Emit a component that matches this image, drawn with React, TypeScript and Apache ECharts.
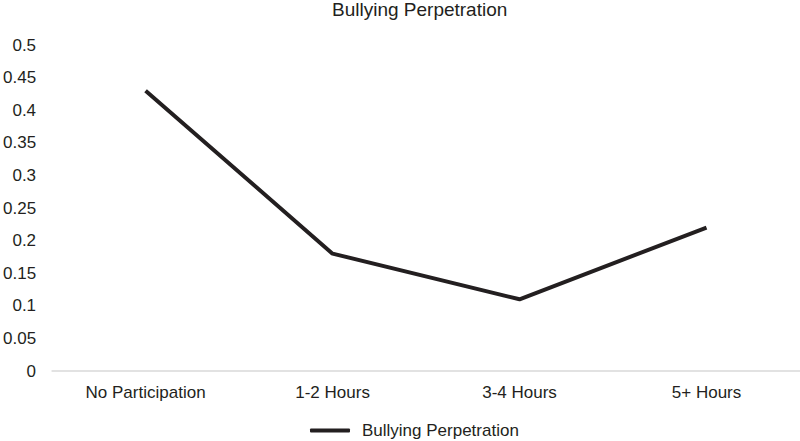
import React, { useEffect, useRef } from "react";
import * as echarts from "echarts";

const categories = ["No Participation", "1-2 Hours", "3-4 Hours", "5+ Hours"];
const seriesName = "Bullying Perpetration";
const values = [0.43, 0.18, 0.11, 0.22];
const chartTitle = "Bullying Perpetration";

export default function App() {
  const ref = useRef<HTMLDivElement>(null);
  useEffect(() => {
    if (!ref.current) return;
    const chart = echarts.init(ref.current, null, { renderer: "svg" });
    const font = "'Liberation Sans', Arial, sans-serif";
    chart.setOption({
      animation: false,
      backgroundColor: "#ffffff",
      textStyle: { fontFamily: font },
      title: {
        text: chartTitle,
        left: 332,
        top: 0,
        padding: 0,
        textStyle: { fontFamily: font, fontSize: 19, fontWeight: "normal", color: "#231f20" },
      },
      legend: {
        top: 422,
        left: 310,
        padding: 0,
        data: [seriesName],
        itemWidth: 40,
        itemHeight: 4,
        textStyle: { fontFamily: font, fontSize: 17, color: "#231f20", padding: [0, 0, 0, 7] },
        icon: "roundRect",
      },
      grid: { left: 49, right: 0, top: 45, bottom: 70, containLabel: false },
      xAxis: {
        type: "category",
        data: categories,
        boundaryGap: true,
        axisLine: { show: true, lineStyle: { color: "#d9d9d9", width: 1.5 } },
        axisTick: { show: false },
        axisLabel: { fontFamily: font, fontSize: 17, color: "#231f20", margin: 13 },
      },
      yAxis: {
        type: "value",
        min: 0,
        max: 0.5,
        interval: 0.05,
        axisLine: { show: false },
        axisTick: { show: false },
        splitLine: { show: false },
        axisLabel: {
          fontFamily: font,
          fontSize: 17,
          color: "#231f20",
          margin: 16,
          formatter: (v: number) => String(Math.round(v * 100) / 100),
        },
      },
      series: [
        {
          name: seriesName,
          type: "line",
          data: values,
          symbol: "none",
          lineStyle: { color: "#231f20", width: 4 },
          itemStyle: { color: "#231f20" },
        },
      ],
    });
    return () => chart.dispose();
  }, []);
  return (
    <div
      ref={ref}
      style={{ position: "absolute", left: 0, top: 0, width: 800, height: 441 }}
    />
  );
}
